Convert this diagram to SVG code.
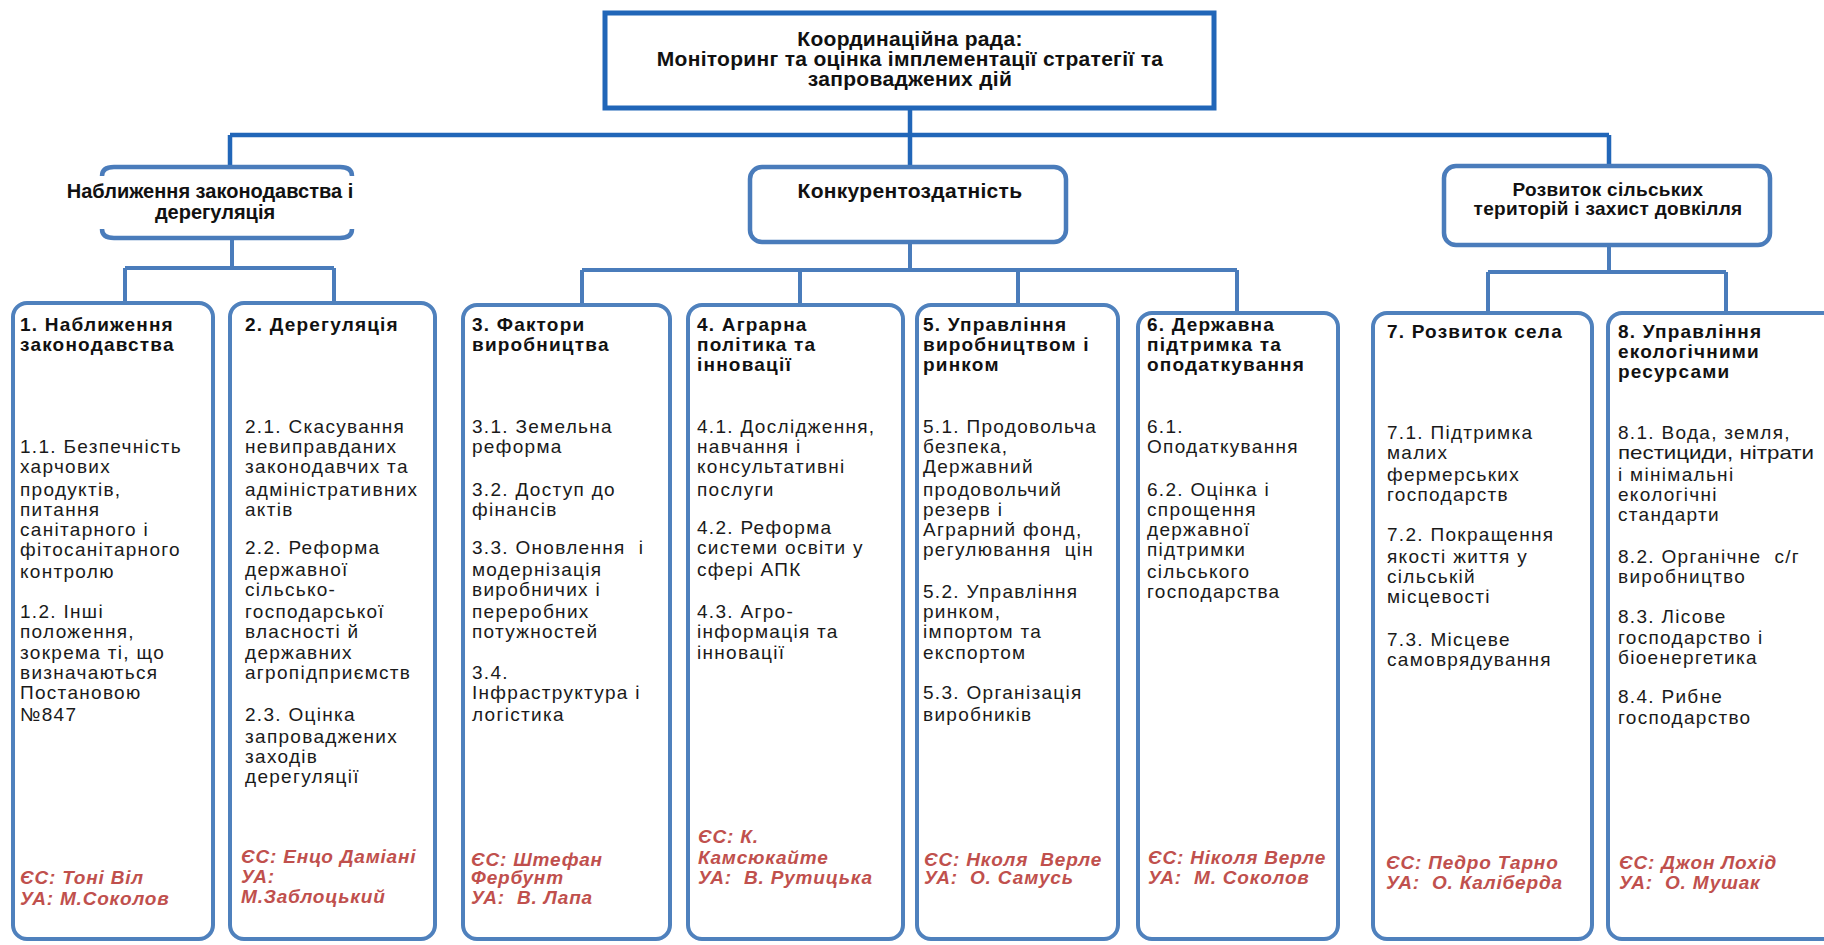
<svg xmlns="http://www.w3.org/2000/svg" width="1824" height="945" viewBox="0 0 1824 945" xml:space="preserve">
<style>
.bg{fill:#ffffff}
.top{fill:#fff;stroke:#2166b8;stroke-width:5}
.grp{fill:#fff;stroke:#4a7cbb;stroke-width:4.5}
.brk{fill:none;stroke:#4a7cbb;stroke-width:4.5}
.col{fill:#fff;stroke:#4f81bd;stroke-width:4}
.c1{fill:none;stroke:#2166b8;stroke-width:4.5}
.c2{fill:none;stroke:#4a7cbb;stroke-width:4}
text{white-space:pre}
.h{font-family:"Liberation Sans",Arial,sans-serif;font-weight:bold;font-size:21px;letter-spacing:0.3px;fill:#111;text-anchor:middle}
.h2{font-size:20px;letter-spacing:0}
.hs{font-family:"Liberation Sans",Arial,sans-serif;font-weight:bold;font-size:19px;letter-spacing:0.3px;fill:#111;text-anchor:middle}
.t{font-family:"Liberation Sans",Arial,sans-serif;font-weight:bold;font-size:19px;letter-spacing:1.2px;fill:#111}
.b{font-family:"Liberation Sans",Arial,sans-serif;font-size:19px;letter-spacing:1.3px;fill:#1a1a1a}
.f{font-family:"Liberation Sans",Arial,sans-serif;font-weight:bold;font-style:italic;font-size:19px;letter-spacing:0.8px;fill:#c0504d}
</style>
<rect class="bg" x="0" y="0" width="1824" height="945"/>
<g id="connectors"><path class="c1" d="M910 108 V167 M230 135 H1609 M230 135 V167 M1609 135 V166"/><path class="c2" d="M232 238 V268 M125 268 H334 M125 268 V303 M334 268 V303"/><path class="c2" d="M910 242 V270 M582 270 H1237 M582 270 V305 M800 270 V305 M1018 270 V305 M1237 270 V313"/><path class="c2" d="M1609 245 V272 M1488 272 H1726 M1488 272 V313 M1726 272 V313"/></g>
<g id="council"><rect class="top" x="605" y="13" width="609" height="95"/><text class="h" x="910" y="46">Координаційна рада:</text><text class="h" x="910" y="66">Моніторинг та оцінка імплементації стратегії та</text><text class="h" x="910" y="86">запроваджених дій</text></g>
<g id="group-approximation"><path class="brk" d="M102 176 Q102 167 114 167 H340 Q352 167 352 176"/><path class="brk" d="M102 229 Q102 238 114 238 H340 Q352 238 352 229"/><text class="h h2" x="210" y="198">Наближення законодавства і</text><text class="h h2" x="215" y="219">дерегуляція</text></g>
<g id="group-competitiveness"><rect class="grp" x="750" y="167" width="316" height="75" rx="12"/><text class="h" x="910" y="198">Конкурентоздатність</text></g>
<g id="group-rural"><rect class="grp" x="1444" y="166" width="326" height="79" rx="12"/><text class="hs" x="1608" y="196">Розвиток сільських</text><text class="hs" x="1608" y="215">територій і захист довкілля</text></g>
<g id="col1"><rect class="col" x="13" y="303" width="200" height="636" rx="14"/><text class="t"><tspan x="20" y="331">1. Наближення</tspan><tspan x="20" y="351">законодавства</tspan></text><text class="b"><tspan x="20" y="453">1.1. Безпечність</tspan><tspan x="20" y="473">харчових</tspan><tspan x="20" y="496">продуктів,</tspan><tspan x="20" y="516">питання</tspan><tspan x="20" y="536">санітарного і</tspan><tspan x="20" y="556">фітосанітарного</tspan><tspan x="20" y="578">контролю</tspan><tspan x="20" y="618">1.2. Інші</tspan><tspan x="20" y="638">положення,</tspan><tspan x="20" y="659">зокрема ті, що</tspan><tspan x="20" y="679">визначаються</tspan><tspan x="20" y="699">Постановою</tspan><tspan x="20" y="721">№847</tspan></text><text class="f"><tspan x="20" y="884">ЄС: Тоні Віл</tspan><tspan x="20" y="905">УА: М.Соколов</tspan></text></g>
<g id="col2"><rect class="col" x="230" y="303" width="205" height="636" rx="14"/><text class="t"><tspan x="245" y="331">2. Дерегуляція</tspan></text><text class="b"><tspan x="245" y="433">2.1. Скасування</tspan><tspan x="245" y="453">невиправданих</tspan><tspan x="245" y="473">законодавчих та</tspan><tspan x="245" y="496">адміністративних</tspan><tspan x="245" y="516">актів</tspan><tspan x="245" y="554">2.2. Реформа</tspan><tspan x="245" y="576">державної</tspan><tspan x="245" y="596">сільсько-</tspan><tspan x="245" y="618">господарської</tspan><tspan x="245" y="638">власності й</tspan><tspan x="245" y="659">державних</tspan><tspan x="245" y="679">агропідприємств</tspan><tspan x="245" y="721">2.3. Оцінка</tspan><tspan x="245" y="743">запроваджених</tspan><tspan x="245" y="763">заходів</tspan><tspan x="245" y="783">дерегуляції</tspan></text><text class="f"><tspan x="241" y="863">ЄС: Енцо Даміані</tspan><tspan x="241" y="883">УА:</tspan><tspan x="241" y="903">М.Заблоцький</tspan></text></g>
<g id="col3"><rect class="col" x="463" y="305" width="207" height="634" rx="14"/><text class="t"><tspan x="472" y="331">3. Фактори</tspan><tspan x="472" y="351">виробництва</tspan></text><text class="b"><tspan x="472" y="433">3.1. Земельна</tspan><tspan x="472" y="453">реформа</tspan><tspan x="472" y="496">3.2. Доступ до</tspan><tspan x="472" y="516">фінансів</tspan><tspan x="472" y="554">3.3. Оновлення  і</tspan><tspan x="472" y="576">модернізація</tspan><tspan x="472" y="596">виробничих і</tspan><tspan x="472" y="618">переробних</tspan><tspan x="472" y="638">потужностей</tspan><tspan x="472" y="679">3.4.</tspan><tspan x="472" y="699">Інфраструктура і</tspan><tspan x="472" y="721">логістика</tspan></text><text class="f"><tspan x="471" y="866">ЄС: Штефан</tspan><tspan x="471" y="884">Фербунт</tspan><tspan x="471" y="904">УА:  В. Лапа</tspan></text></g>
<g id="col4"><rect class="col" x="688" y="305" width="215" height="634" rx="14"/><text class="t"><tspan x="697" y="331">4. Аграрна</tspan><tspan x="697" y="351">політика та</tspan><tspan x="697" y="371">інновації</tspan></text><text class="b"><tspan x="697" y="433">4.1. Дослідження,</tspan><tspan x="697" y="453">навчання і</tspan><tspan x="697" y="473">консультативні</tspan><tspan x="697" y="496">послуги</tspan><tspan x="697" y="534">4.2. Реформа</tspan><tspan x="697" y="554">системи освіти у</tspan><tspan x="697" y="576">сфері АПК</tspan><tspan x="697" y="618">4.3. Агро-</tspan><tspan x="697" y="638">інформація та</tspan><tspan x="697" y="659">інновації</tspan></text><text class="f"><tspan x="698" y="843">ЄС: К.</tspan><tspan x="698" y="864">Камсюкайте</tspan><tspan x="698" y="884">УА:  В. Рутицька</tspan></text></g>
<g id="col5"><rect class="col" x="917" y="305" width="201" height="634" rx="14"/><text class="t"><tspan x="923" y="331">5. Управління</tspan><tspan x="923" y="351">виробництвом і</tspan><tspan x="923" y="371">ринком</tspan></text><text class="b"><tspan x="923" y="433">5.1. Продовольча</tspan><tspan x="923" y="453">безпека,</tspan><tspan x="923" y="473">Державний</tspan><tspan x="923" y="496">продовольчий</tspan><tspan x="923" y="516">резерв і</tspan><tspan x="923" y="536">Аграрний фонд,</tspan><tspan x="923" y="556">регулювання  цін</tspan><tspan x="923" y="598">5.2. Управління</tspan><tspan x="923" y="618">ринком,</tspan><tspan x="923" y="638">імпортом та</tspan><tspan x="923" y="659">експортом</tspan><tspan x="923" y="699">5.3. Організація</tspan><tspan x="923" y="721">виробників</tspan></text><text class="f"><tspan x="924" y="866">ЄС: Нколя  Верле</tspan><tspan x="924" y="884">УА:  О. Самусь</tspan></text></g>
<g id="col6"><rect class="col" x="1138" y="313" width="200" height="626" rx="14"/><text class="t"><tspan x="1147" y="331">6. Державна</tspan><tspan x="1147" y="351">підтримка та</tspan><tspan x="1147" y="371">оподаткування</tspan></text><text class="b"><tspan x="1147" y="433">6.1.</tspan><tspan x="1147" y="453">Оподаткування</tspan><tspan x="1147" y="496">6.2. Оцінка і</tspan><tspan x="1147" y="516">спрощення</tspan><tspan x="1147" y="536">державної</tspan><tspan x="1147" y="556">підтримки</tspan><tspan x="1147" y="578">сільського</tspan><tspan x="1147" y="598">господарства</tspan></text><text class="f"><tspan x="1148" y="864">ЄС: Ніколя Верле</tspan><tspan x="1148" y="884">УА:  М. Соколов</tspan></text></g>
<g id="col7"><rect class="col" x="1373" y="313" width="219" height="626" rx="14"/><text class="t"><tspan x="1387" y="338">7. Розвиток села</tspan></text><text class="b"><tspan x="1387" y="439">7.1. Підтримка</tspan><tspan x="1387" y="459">малих</tspan><tspan x="1387" y="481">фермерських</tspan><tspan x="1387" y="501">господарств</tspan><tspan x="1387" y="541">7.2. Покращення</tspan><tspan x="1387" y="563">якості життя у</tspan><tspan x="1387" y="583">сільській</tspan><tspan x="1387" y="603">місцевості</tspan><tspan x="1387" y="646">7.3. Місцеве</tspan><tspan x="1387" y="666">самоврядування</tspan></text><text class="f"><tspan x="1386" y="869">ЄС: Педро Тарно</tspan><tspan x="1386" y="889">УА:  О. Каліберда</tspan></text></g>
<g id="col8"><rect class="col" x="1608" y="313" width="240" height="626" rx="14"/><text class="t"><tspan x="1618" y="338">8. Управління</tspan><tspan x="1618" y="358">екологічними</tspan><tspan x="1618" y="378">ресурсами</tspan></text><text class="b"><tspan x="1618" y="439">8.1. Вода, земля,</tspan><tspan x="1618" y="481">і мінімальні</tspan><tspan x="1618" y="501">екологічні</tspan><tspan x="1618" y="521">стандарти</tspan><tspan x="1618" y="563">8.2. Органічне  с/г</tspan><tspan x="1618" y="583">виробництво</tspan><tspan x="1618" y="623">8.3. Лісове</tspan><tspan x="1618" y="644">господарство і</tspan><tspan x="1618" y="664">біоенергетика</tspan><tspan x="1618" y="703">8.4. Рибне</tspan><tspan x="1618" y="724">господарство</tspan></text><text class="b" x="1618" y="459" textLength="196" lengthAdjust="spacingAndGlyphs" style="letter-spacing:0">пестициди, нітрати</text><text class="f"><tspan x="1619" y="869">ЄС: Джон Лохід</tspan><tspan x="1619" y="889">УА:  О. Мушак</tspan></text></g>
</svg>
